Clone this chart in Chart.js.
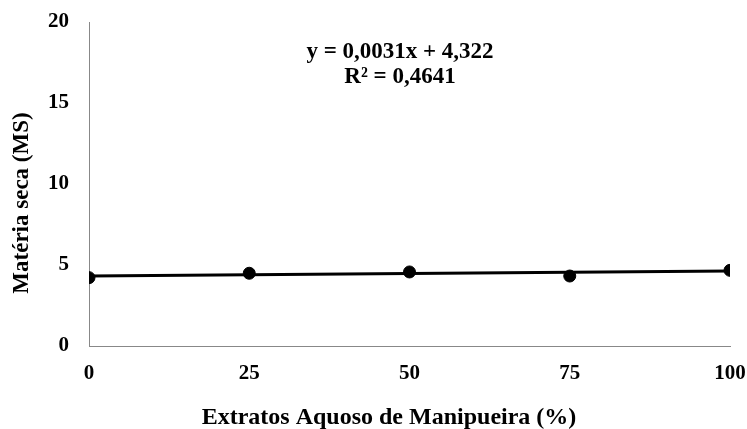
<!DOCTYPE html>
<html><head><meta charset="utf-8">
<script src="https://cdn.jsdelivr.net/npm/chart.js@4/dist/chart.umd.min.js"></script>
<style>html,body{margin:0;padding:0;background:#fff}#c{display:block}</style>
</head><body>
<canvas id="c" width="747" height="429"></canvas>
<script>
const xValues = [0, 25, 50, 75, 100];
const yValues = [4.22, 4.49, 4.57, 4.32, 4.67];
const yTicks = [0, 5, 10, 15, 20];
const xTicks = [0, 25, 50, 75, 100];
const trendSlope = [0.0031];
const trendIntercept = [4.322];
const equationLines = ['y = 0,0031x + 4,322', 'R² = 0,4641'];
const xTitle = 'Extratos Aquoso de Manipueira (%)';
const yTitle = 'Matéria seca (MS)';

const FONT = '"Liberation Serif", "Times New Roman", serif';
const trendPts = [xValues[0], xValues[xValues.length-1]].map(x => ({x, y: trendSlope[0]*x + trendIntercept[0]}));

const textPlugin = {
  id: 'texts',
  afterDraw(chart) {
    const ctx = chart.ctx;
    ctx.save();
    ctx.fillStyle = '#000';
    ctx.font = 'bold 23px ' + FONT;
    ctx.textAlign = 'center';
    ctx.textBaseline = 'middle';
    ctx.fillText(equationLines[0], 400, 52);
    ctx.fillText(equationLines[1], 400, 77);
    ctx.font = 'bold 24px ' + FONT;
    ctx.textBaseline = 'alphabetic';
    ctx.fillText(xTitle, 389, 424);
    ctx.translate(22, 203);
    ctx.rotate(-Math.PI/2);
    ctx.font = 'bold 23px ' + FONT;
    ctx.textBaseline = 'middle';
    ctx.fillText(yTitle, 0, 0);
    ctx.restore();
  }
};

new Chart(document.getElementById('c'), {
  type: 'scatter',
  data: {
    datasets: [
      { label: 'trend', type: 'line', data: trendPts, borderColor: '#000', borderWidth: 3, pointRadius: 0, fill: false, order: 2 },
      { label: 'MS', data: xValues.map((x,i)=>({x, y: yValues[i]})), backgroundColor: '#000', borderColor: '#000', pointRadius: 6, pointHoverRadius: 6, order: 1 }
    ]
  },
  options: {
    responsive: false,
    animation: false,
    layout: { padding: { top: 22, right: 17, left: 0, bottom: 0 } },
    plugins: { legend: { display: false }, tooltip: { enabled: false } },
    scales: {
      x: {
        type: 'linear', min: 0, max: 100,
        afterBuildTicks: s => { s.ticks = xTicks.map(v => ({value: v})); },
        afterFit: s => { s.height = 83; s.paddingLeft = 0; s.paddingRight = 0; },
        grid: { display: false, drawTicks: false },
        border: { color: '#888', width: 1 },
        ticks: { color: '#000', font: { family: FONT, size: 21, weight: 'bold' }, padding: 15, maxRotation: 0 },
        title: { display: false }
      },
      y: {
        min: 0, max: 20,
        afterBuildTicks: s => { s.ticks = yTicks.map(v => ({value: v})); },
        afterFit: s => { s.width = 89; s.paddingTop = 0; s.paddingBottom = 0; },
        grid: { display: false, drawTicks: false },
        border: { color: '#888', width: 1 },
        ticks: { color: '#000', font: { family: FONT, size: 21, weight: 'bold' }, padding: 20 },
        title: { display: false }
      }
    }
  },
  plugins: [textPlugin]
});
</script>
</body></html>
